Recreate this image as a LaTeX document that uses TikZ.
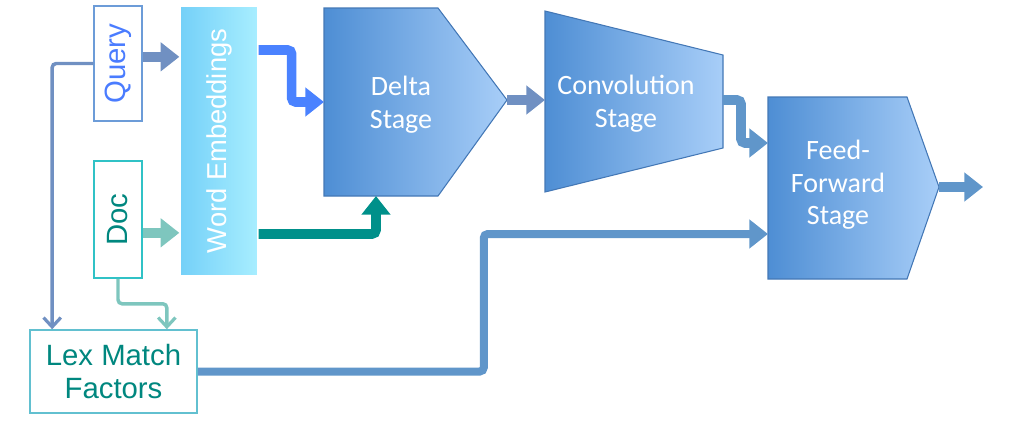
\documentclass[tikz,border=0pt]{standalone}
\usepackage{fontspec}
\setmainfont{Carlito}
\newfontfamily\arialf{Liberation Sans}
\usetikzlibrary{arrows.meta}

\definecolor{stageL}{HTML}{4E8ED4}
\definecolor{stageR}{HTML}{A8CEF8}
\definecolor{stageB}{HTML}{4478B6}
\definecolor{weL}{HTML}{74D0F8}
\definecolor{weR}{HTML}{A8EEFF}
\definecolor{grayblue}{HTML}{7090C2}
\definecolor{midblue}{HTML}{6096CA}
\definecolor{brightblue}{HTML}{4A82FF}
\definecolor{darkteal}{HTML}{00908A}
\definecolor{lightteal}{HTML}{7EC6BE}
\definecolor{querytxt}{HTML}{4A7CFF}
\definecolor{queryline}{HTML}{6C9CD8}
\definecolor{docline}{HTML}{30C2C6}
\definecolor{doctxt}{HTML}{00877F}
\definecolor{lexline}{HTML}{62C0D0}

\begin{document}
\begin{tikzpicture}[
		x=0.75pt, y=-0.75pt,
		inbox/.style = {rectangle, fill=white, line width=1.1pt, inner sep=0pt, font=\arialf\fontsize{22}{25}\selectfont},
		stagetext/.style = {align=center, text=white, font=\fontsize{21}{24.5}\selectfont},
		stagefill/.style = {left color=stageL, right color=stageR, draw=stageB, line width=0.8pt},
		fat/.style = {-{Triangle[length=14pt, width=21pt]}, line width=7.2pt, rounded corners=3pt},
		slim/.style = {-{Straight Barb[length=7pt, width=13pt, line width=2.4pt]}, line width=2.6pt, rounded corners=3pt},
		]
		\useasboundingbox (0,0) rectangle (1031,432);
		
		%Nodes
		\node[inbox, draw=queryline, minimum width=36pt, minimum height=86.3pt]	(query)	at	(118, 63.5)	{};
		\node[rotate=90, text=querytxt, font=\arialf\fontsize{22}{25}\selectfont]	(querytxt)	at	(query)	{Query};
		\node[inbox, draw=docline, minimum width=36pt, minimum height=87.8pt]	(doc)	at	(118, 219.5)	{};
		\node[rotate=90, text=doctxt, font=\arialf\fontsize{22}{25}\selectfont]	(doctxt)	at	(doc)	{Doc};
		\node[rectangle, left color=weL, right color=weR, draw=white, line width=1pt, minimum width=58.5pt, minimum height=202.5pt]	(we)	at	(219, 141)	{};
		\node[rotate=90, text=white, font=\arialf\fontsize{20.5}{24}\selectfont]	(wetxt)	at	(we)	{Word Embeddings};
		\node[inbox, draw=lexline, text=doctxt, align=center, minimum width=125.3pt, minimum height=62.3pt]	(lex)	at	(113.5, 371.5)	{Lex Match\\Factors};
		
		%Stages
		\shadedraw[stagefill] (324,8) -- (438,8) -- (507,100) -- (438,196) -- (324,196) -- cycle;
		\shadedraw[stagefill] (545,11) -- (723,55) -- (723,148) -- (545,192) -- cycle;
		\shadedraw[stagefill] (768,97) -- (907,97) -- (939,187) -- (907,279) -- (768,279) -- cycle;
		\node[stagetext]	(delta)	at	(401, 105)	{Delta\\Stage};
		\node[stagetext]	(conv)	at	(626, 104)	{Convolution\\Stage};
		\node[stagetext]	(ff)	at	(838, 185)	{Feed-\\Forward\\Stage};
		\coordinate (deltain)	at	(324, 102);
		\coordinate (deltabot)	at	(376, 196);
		\coordinate (deltaout)	at	(507, 100);
		\coordinate (convin)	at	(545, 100);
		\coordinate (convout)	at	(723, 100);
		\coordinate (ffin1)	at	(768, 143);
		\coordinate (ffin2)	at	(768, 234);
		\coordinate (ffout)	at	(939, 187);
		\coordinate (result)	at	(983, 187);
		
		%Lines
		\draw[slim, grayblue]	(query.west)	-|	([xshift=-46pt]lex.north);
		\draw[slim, lightteal]	(doc.south)	--	++(0,25)	-|	([xshift=40pt]lex.north);
		\draw[fat, grayblue]	([yshift=5pt]query.east)	--	([yshift=5pt]query.east -| we.west);
		\draw[fat, lightteal]	([yshift=-10pt]doc.east)	--	([yshift=-10pt]doc.east -| we.west);
		\draw[fat, brightblue]	(we.east |- 0,50)	--	++(33,0)	|-	(deltain);
		\draw[fat, darkteal]	(we.east |- 0,234)	-|	(deltabot);
		\draw[fat, grayblue]	(deltaout)	to	(convin);
		\draw[fat, midblue]	(convout)	--	++(18,0)	|-	(ffin1);
		\draw[fat, midblue, line width=6pt]	(lex.east)	--	++(286,0)	|-	(ffin2);
		\draw[fat, midblue]	(ffout)	to	(result);
	\end{tikzpicture}
\end{document}
